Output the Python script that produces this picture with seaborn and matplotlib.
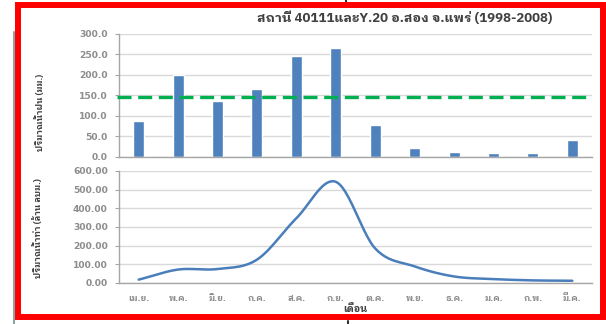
import matplotlib
matplotlib.use("Agg")
import matplotlib.pyplot as plt
import numpy as np
import pandas as pd
import seaborn as sns
from matplotlib.patches import Rectangle
from matplotlib.lines import Line2D
from matplotlib.ticker import FuncFormatter, MultipleLocator

# ---- data ----
months = ["เม.ย.", "พ.ค.", "มิ.ย.", "ก.ค.", "ส.ค.", "ก.ย.",
          "ต.ค.", "พ.ย.", "ธ.ค.", "ม.ค.", "ก.พ.", "มี.ค."]
rainfall = [89, 200, 137, 167, 247, 266, 79, 23, 12, 9, 9, 41]
runoff = [18, 72, 75, 125, 347, 542, 185, 89, 35, 21, 14, 12]
rain_mean = 147
title = "สถานี 40111และY.20 อ.สอง จ.แพร่ (1998-2008)"
ylabel_top = "ปริมาณน้ำฝน (มม.)"
ylabel_bottom = "ปริมาณน้ำท่า (ล้าน ลบม.)"
xlabel = "เดือน"

sns.set_theme(style="white")
FAM = ["IBM Plex Sans Thai Looped", "Noto Sans Thai Looped", "DejaVu Sans"]
plt.rcParams["font.family"] = FAM

W, H = 606, 324
fig = plt.figure(figsize=(W / 100, H / 100), dpi=100)
fig.patch.set_facecolor("white")


def ax_rect(l, t, r, b):
    return [l / W, 1 - b / H, (r - l) / W, (b - t) / H]


ax1 = fig.add_axes(ax_rect(119, 34, 592, 157))
ax2 = fig.add_axes(ax_rect(119, 171, 592, 283))

grid_c = "#d9d9d9"
spine_c = "#a6a6a6"
tick_c = "#8c8c8c"

df = pd.DataFrame({"month": months, "rain": rainfall, "runoff": runoff})

# top: bar chart
sns.barplot(data=df, x="month", y="rain", ax=ax1, color="#4f81bd",
            saturation=1, width=0.28, order=months)
ax1.axhline(rain_mean, color="#00b050", lw=2.4, ls=(0, (4.2, 2.0)), zorder=5,
            xmin=-0.005, xmax=1.0, clip_on=False)
ax1.set_ylim(0, 300)
ax1.yaxis.set_major_locator(MultipleLocator(50))
ax1.yaxis.set_major_formatter(FuncFormatter(lambda v, p: f"{v:.1f}"))
ax1.set_xticks([])
ax1.set_xlim(-0.5, 11.5)

# bottom: smoothed line (Catmull-Rom rendering of the data points)
xs = np.arange(len(runoff), dtype=float)
ys = np.array(runoff, dtype=float)
px = np.concatenate([[2 * xs[0] - xs[1]], xs, [2 * xs[-1] - xs[-2]]])
py = np.concatenate([[2 * ys[0] - ys[1]], ys, [2 * ys[-1] - ys[-2]]])
cx, cy = [], []
t = np.linspace(0, 1, 25)
for i in range(1, len(px) - 2):
    p0, p1, p2, p3 = (np.array([px[j], py[j]]) for j in (i - 1, i, i + 1, i + 2))
    b1 = p1 + (p2 - p0) / 6
    b2 = p2 - (p3 - p1) / 6
    pts = ((1 - t) ** 3)[:, None] * p1 + (3 * (1 - t) ** 2 * t)[:, None] * b1 \
        + (3 * (1 - t) * t ** 2)[:, None] * b2 + (t ** 3)[:, None] * p2
    cx.extend(pts[:, 0]); cy.extend(pts[:, 1])
sns.lineplot(x=cx, y=cy, ax=ax2, color="#4a7ebb", lw=1.8, sort=False,
             estimator=None)
ax2.set_ylim(0, 600)
ax2.set_xlim(-0.5, 11.5)
ax2.yaxis.set_major_locator(MultipleLocator(100))
ax2.yaxis.set_major_formatter(FuncFormatter(lambda v, p: f"{v:.2f}"))
ax2.set_xticks(range(len(months)))
ax2.set_xticklabels(months)

for ax in (ax1, ax2):
    ax.set_xlabel("")
    ax.set_ylabel("")
    ax.set_facecolor("white")
    for s in ("top", "right"):
        ax.spines[s].set_visible(False)
    for s in ("left", "bottom"):
        ax.spines[s].set_color(spine_c)
        ax.spines[s].set_linewidth(1.0)
    ax.grid(axis="y", color=grid_c, lw=1.0)
    ax.set_axisbelow(True)
    ax.tick_params(axis="y", left=True, length=3, width=0.8, color=spine_c,
                   pad=5, labelsize=6.6, labelcolor=tick_c)
    for lab in ax.get_yticklabels():
        lab.set_fontweight("bold")
        lab.set_family("DejaVu Sans")

ax2.tick_params(axis="x", bottom=False, pad=2, labelsize=6.5, labelcolor=tick_c)
for lab in ax2.get_xticklabels():
    lab.set_fontweight("bold")
    lab.set_family(FAM)

# texts
fig.text(405 / W, 1 - 18 / H, title, ha="center", va="center", fontsize=9.5,
         fontweight="bold", color="#404040", family=FAM)
fig.text(40 / W, 1 - 112 / H, ylabel_top, ha="center", va="center",
         rotation=90, fontsize=6.3, fontweight="bold", color="#404040", family=FAM)
fig.text(38 / W, 1 - 228 / H, ylabel_bottom, ha="center", va="center",
         rotation=90, fontsize=6.3, fontweight="bold", color="#404040", family=FAM)
fig.text(355 / W, 1 - 309 / H, xlabel, ha="center", va="center", fontsize=7,
         fontweight="bold", color="#404040", family=FAM)

# page fragments + red frame
fig.add_artist(Line2D([14 / W, 14 / W], [1 - 32 / H, 0], transform=fig.transFigure,
                      color="#8fa3a3", lw=1.5))
fig.add_artist(Line2D([346 / W, 346 / W], [1, 1 - 3 / H], transform=fig.transFigure,
                      color="#333333", lw=1.5))
fig.add_artist(Line2D([348 / W, 348 / W], [1 - 321 / H, 0], transform=fig.transFigure,
                      color="#333333", lw=1.5))
fig.add_artist(Rectangle((18 / W, 1 - 317 / H), (603 - 18) / W, (317 - 4.5) / H,
                         transform=fig.transFigure, fill=False, ec="#ff0000",
                         lw=4.3, zorder=10))

fig.savefig("out.png", dpi=100, facecolor="white")
